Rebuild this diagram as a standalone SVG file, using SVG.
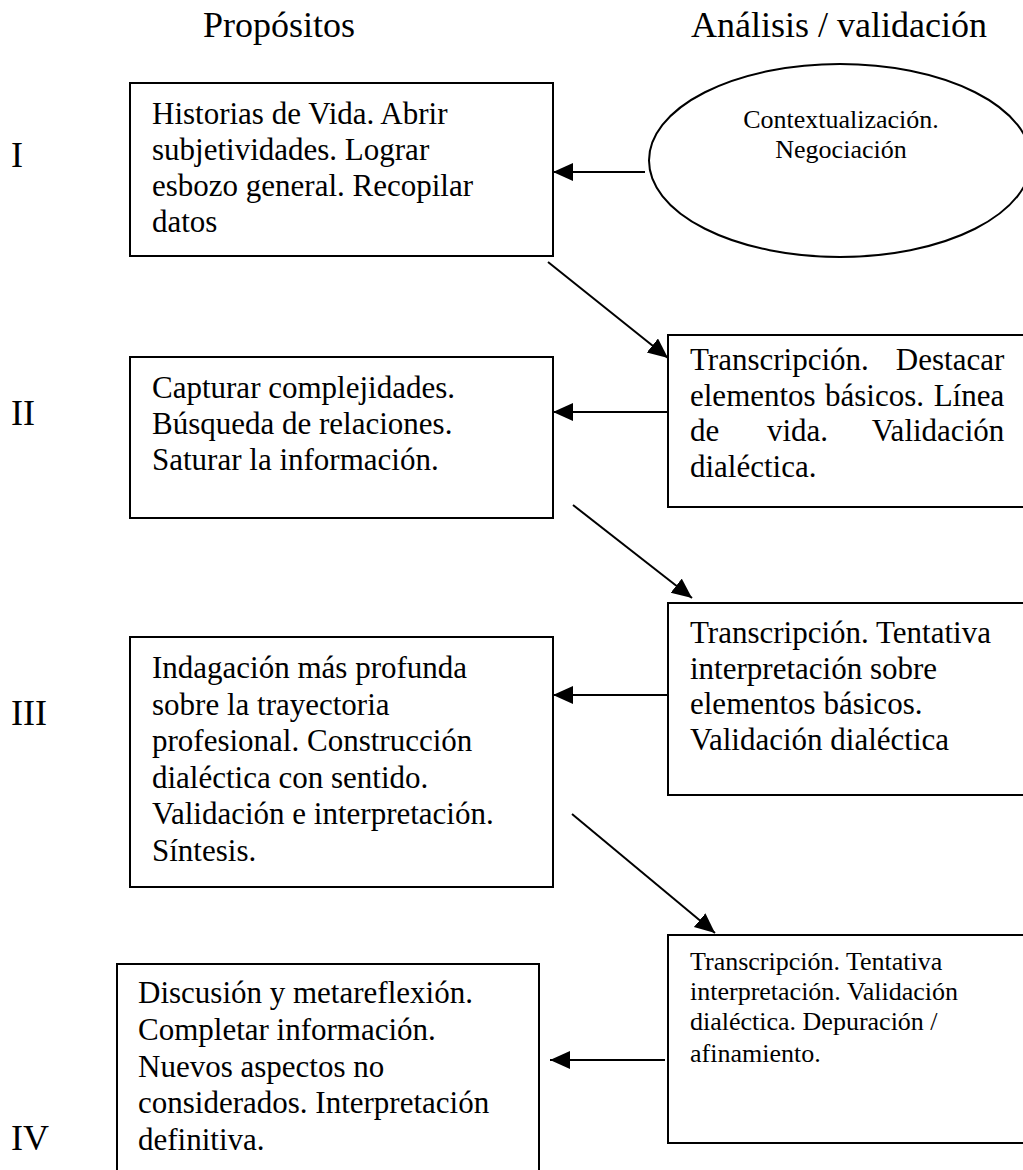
<svg xmlns="http://www.w3.org/2000/svg" width="1023" height="1170" viewBox="0 0 1023 1170">
<style>
text{font-family:"Liberation Serif","Times New Roman",serif;fill:#000}
.h{font-size:36px}
.t{font-size:31px}
.s{font-size:26px}
.box{fill:#fff;stroke:#000;stroke-width:2}
.conn{stroke:#000;stroke-width:2;fill:none;marker-end:url(#arr)}
</style>
<defs>
<marker id="arr" markerUnits="userSpaceOnUse" markerWidth="22" markerHeight="20" refX="20" refY="9" orient="auto">
<path d="M0,0 L20,9 L0,18 z" fill="#000"/>
</marker>
</defs>
<rect width="1023" height="1170" fill="#fff"/>
<g id="headers">
<text class="h" x="203" y="37">Propósitos</text>
<text class="h" x="987" y="37" text-anchor="end">Análisis / validación</text>
</g>
<g id="numerals">
<text class="h" x="11" y="167">I</text>
<text class="h" x="11" y="425">II</text>
<text class="h" x="11" y="725">III</text>
<text class="h" x="11" y="1150">IV</text>
</g>
<g id="n1">
<rect class="box" x="130" y="83" width="423" height="173"/>
<text class="t"><tspan x="152" y="124">Historias de Vida. Abrir</tspan><tspan x="152" y="160">subjetividades. Lograr</tspan><tspan x="152" y="196">esbozo general. Recopilar</tspan><tspan x="152" y="232">datos</tspan></text>
</g>
<g id="e1">
<ellipse class="box" cx="840" cy="160.5" rx="191" ry="96.5"/>
<text class="s" text-anchor="middle"><tspan x="841" y="128">Contextualización.</tspan><tspan x="841" y="158">Negociación</tspan></text>
</g>
<g id="n2">
<rect class="box" x="130" y="357" width="423" height="161"/>
<text class="t"><tspan x="152" y="398">Capturar complejidades.</tspan><tspan x="152" y="434">Búsqueda de relaciones.</tspan><tspan x="152" y="470">Saturar la información.</tspan></text>
</g>
<g id="r2">
<rect class="box" x="668" y="335" width="370" height="172"/>
<text class="t">
<tspan x="690" y="370">Transcripción.</tspan><tspan x="1012" y="370" text-anchor="end">Destacar</tspan>
<tspan x="690" y="405.5">elementos</tspan><tspan x="825" y="405.5">básicos.</tspan><tspan x="1012" y="405.5" text-anchor="end">Línea</tspan>
<tspan x="690" y="441">de</tspan><tspan x="767" y="441">vida.</tspan><tspan x="1012" y="441" text-anchor="end">Validación</tspan>
<tspan x="690" y="476.5">dialéctica.</tspan>
</text>
</g>
<g id="n3">
<rect class="box" x="130" y="637" width="423" height="250"/>
<text class="t"><tspan x="152" y="678">Indagación más profunda</tspan><tspan x="152" y="714.5">sobre la trayectoria</tspan><tspan x="152" y="751">profesional. Construcción</tspan><tspan x="152" y="787.5">dialéctica con sentido.</tspan><tspan x="152" y="824">Validación e interpretación.</tspan><tspan x="152" y="860.5">Síntesis.</tspan></text>
</g>
<g id="r3">
<rect class="box" x="668" y="603" width="370" height="192"/>
<text class="t"><tspan x="690" y="643">Transcripción. Tentativa</tspan><tspan x="690" y="678.5">interpretación sobre</tspan><tspan x="690" y="714">elementos básicos.</tspan><tspan x="690" y="749.5">Validación dialéctica</tspan></text>
</g>
<g id="n4">
<rect class="box" x="117" y="964" width="422" height="215"/>
<text class="t"><tspan x="138" y="1003">Discusión y metareflexión.</tspan><tspan x="138" y="1040">Completar información.</tspan><tspan x="138" y="1077">Nuevos aspectos no</tspan><tspan x="138" y="1113">considerados. Interpretación</tspan><tspan x="138" y="1150">definitiva.</tspan></text>
</g>
<g id="r4">
<rect class="box" x="668" y="935" width="370" height="208"/>
<text class="s"><tspan x="690" y="970">Transcripción. Tentativa</tspan><tspan x="690" y="1000">interpretación. Validación</tspan><tspan x="690" y="1030">dialéctica. Depuración /</tspan><tspan x="690" y="1062">afinamiento.</tspan></text>
</g>
<g id="connectors">
<line class="conn" x1="645" y1="172" x2="553" y2="172"/>
<line class="conn" x1="548" y1="262" x2="668" y2="358"/>
<line class="conn" x1="668" y1="412" x2="553" y2="412"/>
<line class="conn" x1="573" y1="505" x2="692" y2="598"/>
<line class="conn" x1="668" y1="695" x2="553" y2="695"/>
<line class="conn" x1="572" y1="814" x2="715" y2="933"/>
<line class="conn" x1="665" y1="1060" x2="550" y2="1060"/>
</g>
</svg>
